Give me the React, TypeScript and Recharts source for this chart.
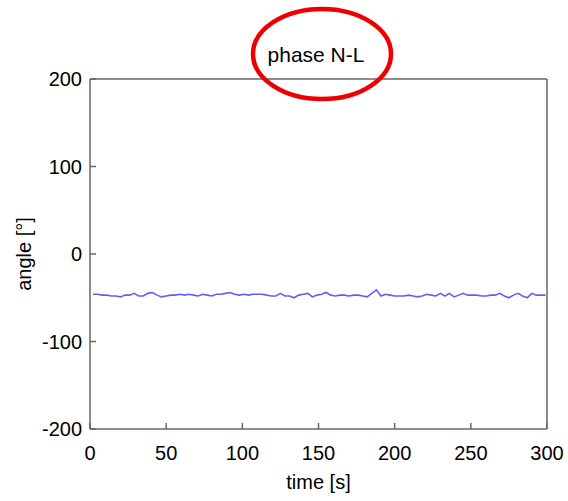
import React from "react";
import { LineChart, Line, XAxis, YAxis, Label } from "recharts";

const times: number[] = [
  2, 5, 8, 11, 14, 17, 20, 23, 26, 29, 32, 35, 38, 41, 44, 47, 50, 53, 56, 59,
  62, 65, 68, 71, 74, 77, 80, 83, 86, 89, 92, 95, 98, 101, 104, 107, 110, 113, 116, 119,
  122, 125, 128, 131, 134, 137, 140, 143, 146, 149, 152, 155, 158, 161, 164, 167, 170, 173, 176, 179,
  182, 185, 188, 191, 194, 197, 200, 203, 206, 209, 212, 215, 218, 221, 224, 227, 230, 233, 236, 239,
  242, 245, 248, 251, 254, 257, 260, 263, 266, 269, 272, 275, 278, 281, 284, 287, 290, 293, 296, 299,
];

const angles: number[] = [
  -46, -46, -47, -47, -48, -48, -49, -47, -47, -45, -48, -48, -45, -44, -47, -49, -48, -47, -47, -46,
  -47, -46, -47, -48, -46, -47, -48, -46, -46, -45, -44, -46, -47, -46, -47, -46, -46, -46, -47, -48,
  -48, -45, -48, -48, -50, -47, -46, -45, -49, -47, -46, -44, -47, -48, -47, -47, -48, -47, -47, -48,
  -49, -45, -41, -48, -46, -47, -48, -48, -48, -47, -48, -49, -48, -46, -47, -48, -45, -48, -45, -49,
  -47, -45, -47, -47, -47, -48, -48, -47, -47, -45, -48, -50, -47, -45, -48, -50, -45, -47, -47, -47,
];

const xTicks: number[] = [0, 50, 100, 150, 200, 250, 300];
const yTicks: number[] = [-200, -100, 0, 100, 200];

const title = "phase N-L";
const xLabel = "time [s]";
const yLabel = "angle [°]";

const data = times.map((t, i) => ({ t, a: angles[i] }));

const FONT = "'Liberation Sans', Arial, sans-serif";
const AX = "#666666";

export default function App() {
  return (
    <div style={{ position: "absolute", left: 0, top: 0, width: 568, height: 501, background: "#fff", overflow: "visible" }}>
      <LineChart
        width={568}
        height={501}
        data={data}
        margin={{ top: 78, right: 20, bottom: 0, left: 0 }}
        style={{ overflow: "visible" }}
      >
        <XAxis
          xAxisId="b"
          dataKey="t"
          type="number"
          domain={[0, 300]}
          ticks={xTicks}
          orientation="bottom"
          height={72}
          tickSize={-6}
          tickMargin={23}
          stroke={AX}
          strokeWidth={1.5}
          tick={{ fill: "#000", fontSize: 20, fontFamily: FONT }}
        >
          <Label value={xLabel} position="insideBottom" offset={12} fill="#000" fontSize={20} fontFamily={FONT} />
        </XAxis>
        <XAxis
          xAxisId="t"
          dataKey="t"
          type="number"
          domain={[0, 300]}
          ticks={xTicks}
          orientation="top"
          height={1}
          tickSize={-6}
          stroke={AX}
          strokeWidth={1.5}
          tick={false}
        />
        <YAxis
          yAxisId="l"
          type="number"
          domain={[-200, 200]}
          ticks={yTicks}
          orientation="left"
          width={90}
          tickSize={-6}
          tickMargin={14}
          stroke={AX}
          strokeWidth={1.5}
          tick={{ fill: "#000", fontSize: 20, fontFamily: FONT }}
        >
          <Label value={yLabel} angle={-90} position="insideLeft" offset={24} fill="#000" fontSize={20} fontFamily={FONT} style={{ textAnchor: "middle" }} />
        </YAxis>
        <YAxis
          yAxisId="r"
          type="number"
          domain={[-200, 200]}
          ticks={yTicks}
          orientation="right"
          width={1}
          tickSize={-6}
          stroke={AX}
          strokeWidth={1.5}
          tick={false}
        />
        <Line
          xAxisId="b"
          yAxisId="l"
          dataKey="a"
          stroke="#5f5fff"
          strokeWidth={1.6}
          dot={false}
          isAnimationActive={false}
        />
        <Line
          xAxisId="t"
          yAxisId="r"
          dataKey="a"
          stroke="none"
          dot={false}
          legendType="none"
          isAnimationActive={false}
        />
      </LineChart>
      <svg width={568} height={501} style={{ position: "absolute", left: 0, top: 0, pointerEvents: "none" }}>
        <text x={316} y={62} textAnchor="middle" fontSize={21} fontFamily={FONT} fill="#000">
          {title}
        </text>
        <ellipse cx={322} cy={54} rx={69} ry={45} fill="none" stroke="#ee0000" strokeWidth={4.5} />
      </svg>
    </div>
  );
}
